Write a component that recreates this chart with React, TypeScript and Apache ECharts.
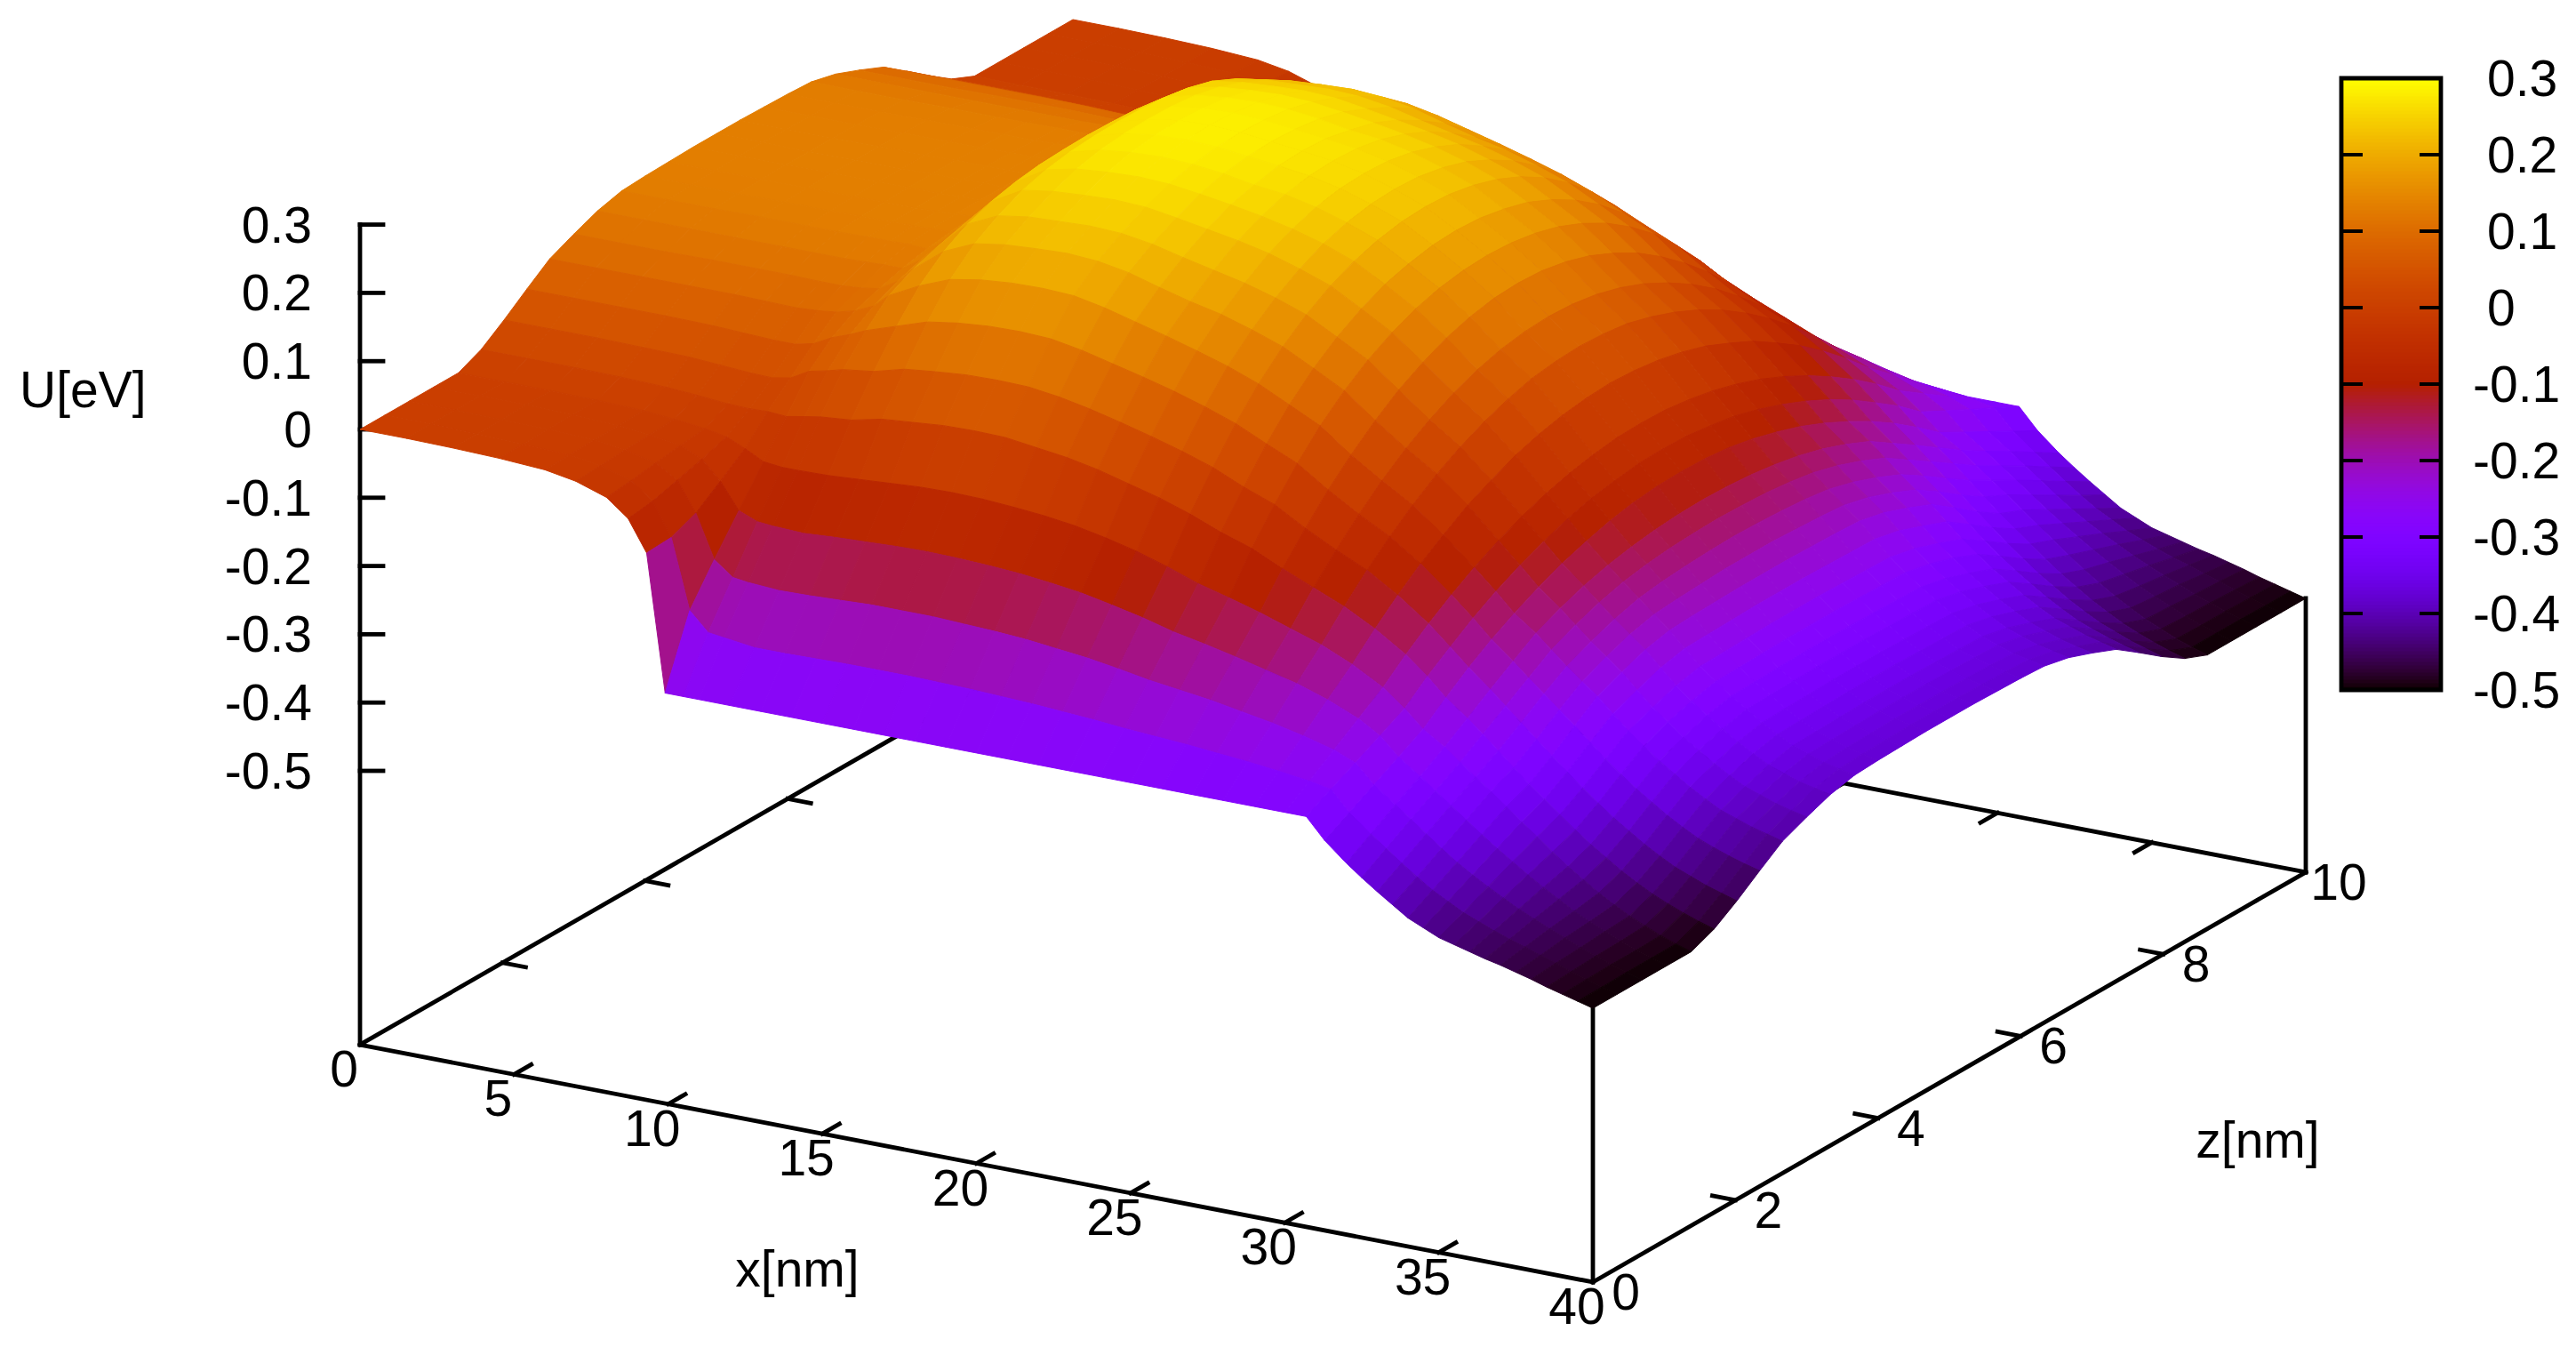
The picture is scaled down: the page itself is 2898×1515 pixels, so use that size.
import React, { useEffect, useRef } from "react";
import * as echarts from "echarts";

const FONT = "'Liberation Sans', Arial, sans-serif";

// grid nodes of the surface (half of the device, it is mirror-symmetric about z = 5 nm)
const xNodes = [0, 1.5, 3, 4.5, 6, 7, 8, 8.7, 9.3, 9.9, 10.5, 11, 12, 13, 14, 15, 16, 17, 18, 19, 20, 21, 22, 23, 24, 25, 26, 27, 28, 29, 30, 30.7, 31.3, 32, 32.5, 33, 33.5, 34, 34.5, 35, 35.5, 36, 36.5, 37, 37.5, 38, 38.5, 39, 39.5, 40];
const zNodesHalf = [0, 0.345, 0.69, 1.035, 1.38, 1.7, 2.02, 2.34, 2.66, 3, 3.33, 3.67, 4, 4.33, 4.67, 5];

// U[eV] along z for each x node
const U_x0 = [0, 0, 0, 0, 0, 0.015, 0.039, 0.065, 0.09, 0.106, 0.12, 0.129, 0.131, 0.132, 0.133, 0.133];
const U_x1p5 = [0, 0, 0, 0, 0, 0.015, 0.039, 0.065, 0.09, 0.106, 0.12, 0.129, 0.131, 0.132, 0.133, 0.133];
const U_x3 = [-0.001, -0.001, -0.001, 0, 0, 0.015, 0.039, 0.065, 0.09, 0.106, 0.12, 0.129, 0.131, 0.132, 0.133, 0.133];
const U_x4p5 = [-0.003, -0.003, -0.002, -0.002, -0.001, 0.014, 0.038, 0.065, 0.09, 0.107, 0.12, 0.13, 0.132, 0.133, 0.134, 0.134];
const U_x6 = [-0.007, -0.006, -0.005, -0.004, -0.003, 0.012, 0.037, 0.064, 0.09, 0.107, 0.12, 0.13, 0.132, 0.133, 0.134, 0.134];
const U_x7 = [-0.015, -0.013, -0.011, -0.009, -0.007, 0.009, 0.034, 0.062, 0.089, 0.107, 0.12, 0.13, 0.133, 0.134, 0.135, 0.135];
const U_x8 = [-0.03, -0.026, -0.021, -0.016, -0.012, 0.005, 0.031, 0.06, 0.088, 0.106, 0.12, 0.131, 0.133, 0.134, 0.135, 0.135];
const U_x8p7 = [-0.055, -0.05, -0.04, -0.03, -0.018, 0.004, 0.03, 0.06, 0.09, 0.106, 0.121, 0.131, 0.134, 0.135, 0.136, 0.136];
const U_x9p3 = [-0.1, -0.098, -0.083, -0.057, -0.03, 0.005, 0.035, 0.066, 0.093, 0.108, 0.122, 0.132, 0.135, 0.136, 0.136, 0.136];
const U_x9p9 = [-0.3, -0.2, -0.146, -0.095, -0.044, 0.003, 0.05, 0.08, 0.1, 0.112, 0.122, 0.13, 0.135, 0.138, 0.14, 0.14];
const U_x10p5 = [-0.3, -0.227, -0.167, -0.106, -0.047, 0.008, 0.056, 0.09, 0.112, 0.128, 0.14, 0.148, 0.152, 0.155, 0.155, 0.155];
const U_x11 = [-0.3, -0.23, -0.17, -0.108, -0.047, 0.012, 0.062, 0.1, 0.132, 0.15, 0.162, 0.172, 0.176, 0.179, 0.18, 0.18];
const U_x12 = [-0.3, -0.236, -0.173, -0.11, -0.046, 0.016, 0.068, 0.115, 0.155, 0.185, 0.205, 0.218, 0.226, 0.231, 0.233, 0.234];
const U_x13 = [-0.3, -0.236, -0.172, -0.107, -0.043, 0.026, 0.08, 0.13, 0.173, 0.205, 0.226, 0.243, 0.253, 0.259, 0.262, 0.263];
const U_x14 = [-0.3, -0.235, -0.17, -0.105, -0.04, 0.03, 0.085, 0.137, 0.181, 0.212, 0.233, 0.25, 0.263, 0.271, 0.275, 0.276];
const U_x15 = [-0.3, -0.234, -0.168, -0.103, -0.037, 0.034, 0.089, 0.141, 0.185, 0.215, 0.235, 0.253, 0.267, 0.276, 0.281, 0.283];
const U_x16 = [-0.3, -0.234, -0.168, -0.102, -0.036, 0.035, 0.09, 0.142, 0.186, 0.217, 0.237, 0.255, 0.269, 0.278, 0.283, 0.285];
const U_x17 = [-0.3, -0.234, -0.168, -0.103, -0.037, 0.034, 0.089, 0.14, 0.184, 0.214, 0.235, 0.253, 0.267, 0.276, 0.281, 0.283];
const U_x18 = [-0.3, -0.235, -0.17, -0.105, -0.04, 0.028, 0.083, 0.132, 0.175, 0.206, 0.228, 0.246, 0.261, 0.271, 0.276, 0.278];
const U_x19 = [-0.3, -0.236, -0.172, -0.108, -0.044, 0.022, 0.074, 0.121, 0.163, 0.193, 0.217, 0.238, 0.254, 0.263, 0.271, 0.273];
const U_x20 = [-0.3, -0.238, -0.175, -0.113, -0.05, 0.013, 0.063, 0.11, 0.151, 0.181, 0.207, 0.23, 0.246, 0.258, 0.265, 0.267];
const U_x21 = [-0.3, -0.24, -0.18, -0.119, -0.059, 0.001, 0.051, 0.098, 0.138, 0.171, 0.197, 0.22, 0.236, 0.248, 0.255, 0.257];
const U_x22 = [-0.3, -0.243, -0.185, -0.128, -0.07, -0.011, 0.038, 0.084, 0.124, 0.157, 0.184, 0.206, 0.223, 0.234, 0.241, 0.243];
const U_x23 = [-0.3, -0.246, -0.192, -0.138, -0.084, -0.026, 0.023, 0.068, 0.107, 0.141, 0.168, 0.19, 0.206, 0.217, 0.224, 0.226];
const U_x24 = [-0.3, -0.25, -0.2, -0.15, -0.1, -0.044, 0.003, 0.047, 0.085, 0.118, 0.144, 0.165, 0.181, 0.191, 0.198, 0.2];
const U_x25 = [-0.3, -0.253, -0.206, -0.159, -0.112, -0.059, -0.014, 0.027, 0.063, 0.094, 0.119, 0.139, 0.154, 0.164, 0.17, 0.172];
const U_x26 = [-0.3, -0.256, -0.212, -0.169, -0.125, -0.08, -0.04, -0.003, 0.029, 0.059, 0.084, 0.104, 0.12, 0.131, 0.138, 0.14];
const U_x27 = [-0.3, -0.26, -0.22, -0.18, -0.14, -0.099, -0.063, -0.03, 0, 0.027, 0.049, 0.068, 0.082, 0.092, 0.098, 0.1];
const U_x28 = [-0.3, -0.264, -0.228, -0.191, -0.155, -0.118, -0.084, -0.054, -0.027, -0.002, 0.018, 0.035, 0.048, 0.058, 0.063, 0.065];
const U_x29 = [-0.3, -0.269, -0.238, -0.206, -0.175, -0.142, -0.112, -0.085, -0.062, -0.039, -0.022, -0.006, 0.005, 0.013, 0.018, 0.02];
const U_x30 = [-0.3, -0.275, -0.25, -0.225, -0.2, -0.171, -0.145, -0.122, -0.101, -0.082, -0.066, -0.053, -0.043, -0.036, -0.031, -0.03];
const U_x30p7 = [-0.3, -0.281, -0.263, -0.244, -0.225, -0.197, -0.173, -0.15, -0.13, -0.112, -0.097, -0.084, -0.074, -0.068, -0.063, -0.062];
const U_x31p3 = [-0.33, -0.31, -0.29, -0.27, -0.25, -0.223, -0.198, -0.176, -0.157, -0.139, -0.124, -0.112, -0.102, -0.095, -0.091, -0.09];
const U_x32 = [-0.357, -0.335, -0.313, -0.292, -0.27, -0.247, -0.224, -0.202, -0.18, -0.164, -0.151, -0.141, -0.134, -0.129, -0.126, -0.125];
const U_x32p5 = [-0.374, -0.352, -0.33, -0.309, -0.288, -0.266, -0.244, -0.222, -0.2, -0.184, -0.171, -0.161, -0.155, -0.151, -0.149, -0.148];
const U_x33 = [-0.39, -0.369, -0.347, -0.326, -0.305, -0.286, -0.264, -0.241, -0.22, -0.204, -0.191, -0.181, -0.176, -0.173, -0.171, -0.17];
const U_x33p5 = [-0.405, -0.385, -0.364, -0.343, -0.322, -0.306, -0.284, -0.26, -0.238, -0.222, -0.209, -0.2, -0.197, -0.195, -0.193, -0.193];
const U_x34 = [-0.42, -0.4, -0.38, -0.36, -0.34, -0.326, -0.304, -0.279, -0.255, -0.24, -0.227, -0.219, -0.217, -0.216, -0.215, -0.215];
const U_x34p5 = [-0.43, -0.412, -0.394, -0.376, -0.358, -0.344, -0.323, -0.299, -0.276, -0.262, -0.249, -0.241, -0.24, -0.239, -0.238, -0.238];
const U_x35 = [-0.44, -0.424, -0.407, -0.391, -0.375, -0.362, -0.342, -0.319, -0.297, -0.283, -0.271, -0.263, -0.262, -0.261, -0.26, -0.26];
const U_x35p5 = [-0.446, -0.433, -0.419, -0.406, -0.393, -0.38, -0.36, -0.337, -0.315, -0.3, -0.289, -0.281, -0.28, -0.279, -0.278, -0.278];
const U_x36 = [-0.452, -0.442, -0.431, -0.42, -0.41, -0.397, -0.377, -0.354, -0.332, -0.318, -0.306, -0.298, -0.297, -0.296, -0.295, -0.295];
const U_x36p5 = [-0.458, -0.45, -0.441, -0.433, -0.425, -0.412, -0.392, -0.369, -0.347, -0.333, -0.321, -0.313, -0.312, -0.311, -0.31, -0.31];
const U_x37 = [-0.463, -0.457, -0.451, -0.446, -0.44, -0.427, -0.407, -0.384, -0.362, -0.348, -0.336, -0.328, -0.327, -0.326, -0.325, -0.325];
const U_x37p5 = [-0.469, -0.465, -0.46, -0.457, -0.453, -0.44, -0.42, -0.397, -0.375, -0.361, -0.349, -0.341, -0.34, -0.339, -0.338, -0.338];
const U_x38 = [-0.475, -0.472, -0.47, -0.467, -0.465, -0.452, -0.432, -0.409, -0.387, -0.373, -0.361, -0.353, -0.352, -0.351, -0.35, -0.35];
const U_x38p5 = [-0.482, -0.48, -0.478, -0.477, -0.475, -0.462, -0.441, -0.418, -0.395, -0.381, -0.369, -0.361, -0.36, -0.359, -0.358, -0.358];
const U_x39 = [-0.488, -0.487, -0.486, -0.486, -0.485, -0.471, -0.45, -0.426, -0.403, -0.389, -0.377, -0.369, -0.367, -0.366, -0.365, -0.365];
const U_x39p5 = [-0.494, -0.494, -0.493, -0.493, -0.493, -0.479, -0.457, -0.433, -0.409, -0.395, -0.382, -0.374, -0.372, -0.371, -0.37, -0.37];
const U_x40 = [-0.5, -0.5, -0.5, -0.5, -0.5, -0.486, -0.464, -0.439, -0.415, -0.4, -0.387, -0.379, -0.377, -0.376, -0.375, -0.375];

const uColumns = [U_x0, U_x1p5, U_x3, U_x4p5, U_x6, U_x7, U_x8, U_x8p7, U_x9p3, U_x9p9, U_x10p5, U_x11, U_x12, U_x13, U_x14, U_x15, U_x16, U_x17, U_x18, U_x19, U_x20, U_x21, U_x22, U_x23, U_x24, U_x25, U_x26, U_x27, U_x28, U_x29, U_x30, U_x30p7, U_x31p3, U_x32, U_x32p5, U_x33, U_x33p5, U_x34, U_x34p5, U_x35, U_x35p5, U_x36, U_x36p5, U_x37, U_x37p5, U_x38, U_x38p5, U_x39, U_x39p5, U_x40];

// tick labels
const xTicks = [0, 5, 10, 15, 20, 25, 30, 35, 40];
const zTicks = [0, 2, 4, 6, 8, 10];
const uTicks = [-0.5, -0.4, -0.3, -0.2, -0.1, 0, 0.1, 0.2, 0.3];

const U_MIN = -0.5;
const U_MAX = 0.3;

// view of the box, in page pixels
const project = (x: number, z: number, u: number): [number, number] => [
  405 + 34.675 * x + 80.2 * z,
  1175 + 6.675 * x - 46.1 * z - 308 - (u - U_MIN) * 768,
];
const projectBase = (x: number, z: number): [number, number] => [
  405 + 34.675 * x + 80.2 * z,
  1175 + 6.675 * x - 46.1 * z,
];

// gnuplot's default pm3d palette (rgbformulae 7,5,15)
const palette = (u: number): string => {
  const t = Math.min(1, Math.max(0, (u - U_MIN) / (U_MAX - U_MIN)));
  const r = Math.sqrt(t);
  const g = t * t * t;
  const b = Math.max(0, Math.sin(2 * Math.PI * t));
  return `rgb(${Math.round(r * 255)},${Math.round(g * 255)},${Math.round(b * 255)})`;
};

const zNodes = [...zNodesHalf, ...zNodesHalf.slice(0, -1).reverse().map((z) => 10 - z)];
const uAt = (i: number, j: number) => {
  const k = j < zNodesHalf.length ? j : 2 * (zNodesHalf.length - 1) - j;
  return uColumns[i][k];
};

export default function App() {
  const ref = useRef<HTMLDivElement>(null);

  useEffect(() => {
    if (!ref.current) return;
    const chart = echarts.init(ref.current, undefined, { renderer: "svg" });

    // far cells first, so that nearer ones cover them
    const cells: number[][] = [];
    for (let i = 0; i < xNodes.length - 1; i++) {
      for (let j = zNodes.length - 2; j >= 0; j--) cells.push([i, j]);
    }

    type Seg = [[number, number], [number, number]];
    const segs: Seg[] = [];
    const base = projectBase;
    segs.push([base(0, 0), base(40, 0)]);
    segs.push([base(40, 0), base(40, 10)]);
    segs.push([base(40, 10), base(0, 10)]);
    segs.push([base(0, 10), base(0, 0)]);
    segs.push([base(0, 0), project(0, 0, U_MAX)]);
    segs.push([base(40, 0), project(40, 0, U_MIN)]);
    segs.push([base(40, 10), project(40, 10, U_MIN)]);
    xTicks.slice(1, -1).forEach((x) => {
      segs.push([base(x, 0), base(x, 0.24)]);
      segs.push([base(x, 10), base(x, 9.76)]);
    });
    zTicks.slice(1, -1).forEach((z) => {
      segs.push([base(40, z), base(39.25, z)]);
      segs.push([base(0, z), base(0.75, z)]);
    });
    uTicks.forEach((u) => {
      const p = project(0, 0, u);
      segs.push([p, [p[0] + 26, p[1]]]);
    });

    type Lab = { t: string; x: number; y: number; align: string };
    const labels: Lab[] = [];
    uTicks.forEach((u) => {
      const p = project(0, 0, u);
      labels.push({ t: String(u), x: 351, y: p[1], align: "right" });
    });
    xTicks.forEach((x) => {
      const p = base(x, 0);
      labels.push({ t: String(x), x: p[0] - 18, y: p[1] + 27, align: "center" });
    });
    zTicks.forEach((z) => {
      const p = base(40, z);
      labels.push({ t: String(z), x: p[0] + 37, y: p[1] + 11, align: "center" });
    });
    labels.push({ t: "U[eV]", x: 22, y: 438, align: "left" });
    labels.push({ t: "x[nm]", x: 897, y: 1427, align: "center" });
    labels.push({ t: "z[nm]", x: 2540, y: 1282, align: "center" });

    const stripLevels: number[] = [];
    for (let k = 0; k < 172; k++) stripLevels.push(k);
    const inner = uTicks.slice(1, -1);

    chart.setOption({
      animation: false,
      backgroundColor: "#fff",
      tooltip: { show: false },
      grid: [
        { left: 0, top: 0, width: 2898, height: 1515, show: false },
        { left: 2634, top: 88, width: 112, height: 688, show: false },
      ],
      xAxis: [
        { type: "value", gridIndex: 0, min: 0, max: 2898, show: false },
        { type: "value", gridIndex: 1, min: 0, max: 1, show: false },
      ],
      yAxis: [
        { type: "value", gridIndex: 0, min: 0, max: 1515, inverse: true, show: false },
        {
          type: "value",
          gridIndex: 1,
          position: "right",
          min: U_MIN,
          max: U_MAX,
          interval: 0.1,
          splitLine: { show: false },
          axisLine: { show: false },
          axisTick: { show: false },
          axisLabel: {
            margin: 36,
            align: "left",
            fontFamily: FONT,
            fontSize: 57,
            color: "#000",
            showMinLabel: true,
            showMaxLabel: true,
            formatter: (v: number) => {
              const s = String(Math.round(v * 10) / 10);
              return v < -1e-9 ? `{n|${s}}` : `{p|${s}}`;
            },
            rich: {
              n: { fontFamily: FONT, fontSize: 57, color: "#000" },
              p: { fontFamily: FONT, fontSize: 57, color: "#000", padding: [0, 0, 0, 16] },
            },
          },
        },
      ],
      series: [
        {
          type: "custom",
          name: "axes",
          xAxisIndex: 0,
          yAxisIndex: 0,
          coordinateSystem: "cartesian2d",
          clip: false,
          silent: true,
          z: 1,
          data: segs.map((s, k) => [s[0][0], s[0][1], k]),
          renderItem: (_: any, api: any) => {
            const s = segs[api.value(2)];
            const a = api.coord(s[0]);
            const b = api.coord(s[1]);
            return {
              type: "line",
              shape: { x1: a[0], y1: a[1], x2: b[0], y2: b[1] },
              style: { stroke: "#000", lineWidth: 4.8, lineCap: "square" },
            };
          },
        },
        {
          type: "custom",
          name: "U",
          xAxisIndex: 0,
          yAxisIndex: 0,
          coordinateSystem: "cartesian2d",
          clip: false,
          silent: true,
          z: 2,
          data: cells,
          renderItem: (_: any, api: any) => {
            const i = api.value(0);
            const j = api.value(1);
            const corners: [number, number][] = [
              [i, j],
              [i + 1, j],
              [i + 1, j + 1],
              [i, j + 1],
            ];
            const pts = corners.map(([a, b]) =>
              api.coord(project(xNodes[a], zNodes[b], uAt(a, b)))
            );
            const mean = corners.reduce((s, [a, b]) => s + uAt(a, b), 0) / 4;
            const c = palette(mean);
            return {
              type: "polygon",
              shape: { points: pts },
              style: { fill: c, stroke: c, lineWidth: 1 },
            };
          },
        },
        {
          type: "custom",
          name: "labels",
          xAxisIndex: 0,
          yAxisIndex: 0,
          coordinateSystem: "cartesian2d",
          clip: false,
          silent: true,
          z: 3,
          data: labels.map((l, k) => [l.x, l.y, k]),
          renderItem: (_: any, api: any) => {
            const l = labels[api.value(2)];
            const p = api.coord([l.x, l.y]);
            return {
              type: "text",
              style: {
                text: l.t,
                x: p[0],
                y: p[1],
                align: l.align,
                verticalAlign: "middle",
                fontFamily: FONT,
                fontSize: 57,
                fill: "#000",
              },
            };
          },
        },
        {
          type: "custom",
          name: "colorbox",
          xAxisIndex: 1,
          yAxisIndex: 1,
          coordinateSystem: "cartesian2d",
          clip: false,
          silent: true,
          z: 4,
          data: stripLevels.map((k) => [0, k]),
          renderItem: (_: any, api: any) => {
            const k = api.value(1);
            const u0 = U_MIN + ((U_MAX - U_MIN) * k) / 172;
            const u1 = U_MIN + ((U_MAX - U_MIN) * (k + 1)) / 172;
            const a = api.coord([0, u0]);
            const b = api.coord([1, u1]);
            const c = palette((u0 + u1) / 2);
            return {
              type: "rect",
              shape: { x: a[0], y: b[1], width: b[0] - a[0], height: a[1] - b[1] + 0.5 },
              style: { fill: c, stroke: null },
            };
          },
        },
        {
          type: "custom",
          name: "colorbox frame",
          xAxisIndex: 1,
          yAxisIndex: 1,
          coordinateSystem: "cartesian2d",
          clip: false,
          silent: true,
          z: 5,
          data: [[0, U_MIN]],
          renderItem: (_: any, api: any) => {
            const a = api.coord([0, U_MIN]);
            const b = api.coord([1, U_MAX]);
            const children: any[] = [
              {
                type: "rect",
                shape: { x: a[0], y: b[1], width: b[0] - a[0], height: a[1] - b[1] },
                style: { fill: "none", stroke: "#000", lineWidth: 4.8 },
              },
            ];
            inner.forEach((u) => {
              const y = api.coord([0, u])[1];
              children.push({
                type: "line",
                shape: { x1: a[0], y1: y, x2: a[0] + 24, y2: y },
                style: { stroke: "#000", lineWidth: 4 },
              });
              children.push({
                type: "line",
                shape: { x1: b[0] - 24, y1: y, x2: b[0], y2: y },
                style: { stroke: "#000", lineWidth: 4 },
              });
            });
            return { type: "group", children };
          },
        },
      ],
    });

    return () => chart.dispose();
  }, []);

  return (
    <div style={{ position: "fixed", left: 0, top: 0, width: 2898, height: 1515, background: "#fff" }}>
      <div ref={ref} style={{ width: 2898, height: 1515 }} />
    </div>
  );
}
